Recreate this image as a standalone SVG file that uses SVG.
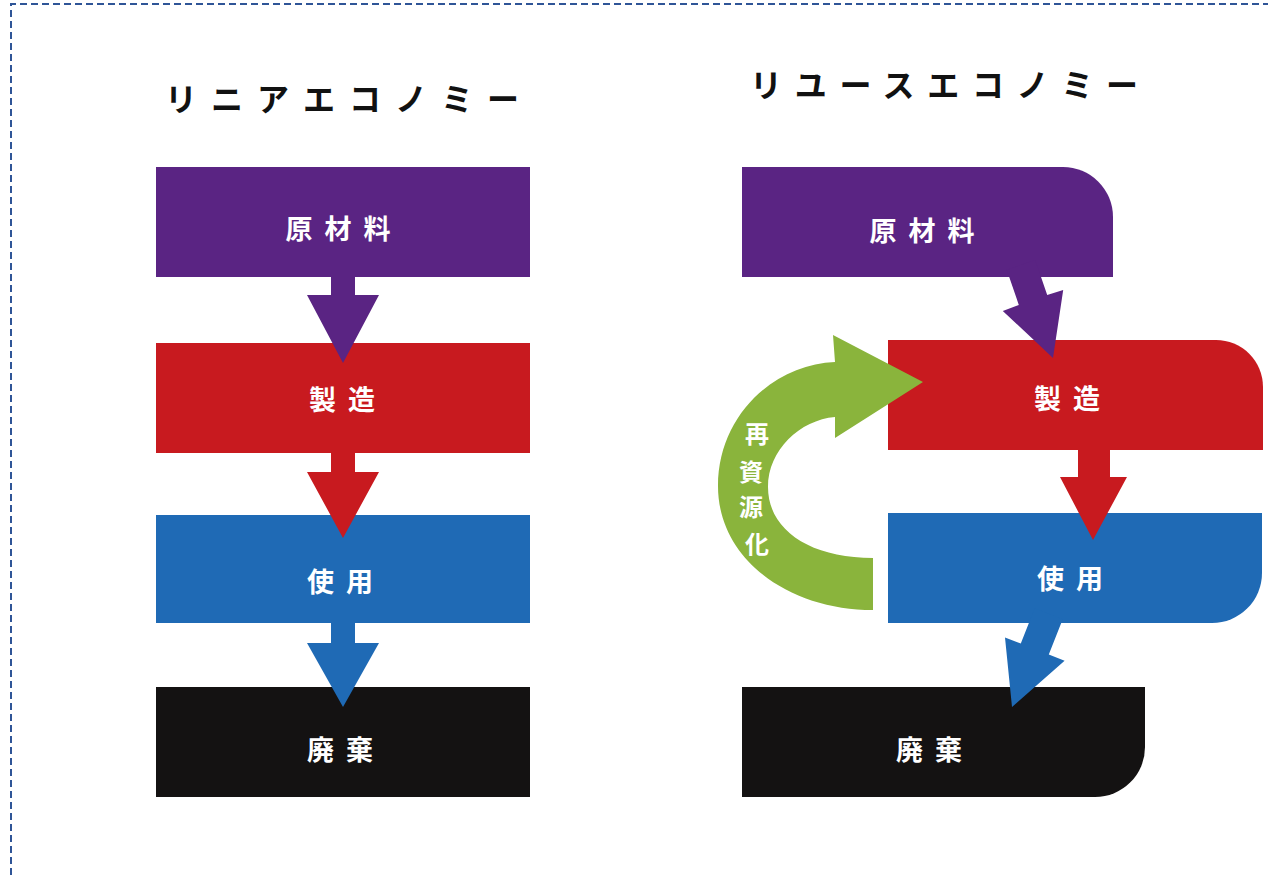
<svg xmlns="http://www.w3.org/2000/svg" width="1268" height="875" viewBox="0 0 1268 875">
<style>
.title{font-family:"Noto Sans CJK JP","Noto Sans",sans-serif;font-weight:700;font-size:32px;fill:#111;}
.lbl{font-family:"Noto Sans CJK JP","Noto Sans",sans-serif;font-weight:700;font-size:27px;fill:#fff;letter-spacing:12px;text-anchor:middle;dominant-baseline:central;}
.vl{font-family:"Noto Sans CJK JP","Noto Sans",sans-serif;font-weight:700;font-size:24px;fill:#fff;text-anchor:middle;dominant-baseline:central;}
.pu{fill:#5a2483;}
.rd{fill:#c81a1f;}
.bl{fill:#1f6ab5;}
.bk{fill:#141212;}
.gr{fill:#8ab43c;}
</style>
<rect x="0" y="0" width="1268" height="875" fill="#ffffff"/>
<path d="M11 875 L11 4 L1268 4" fill="none" stroke="#2f5597" stroke-width="2" stroke-dasharray="7 4"/>

<text class="title" x="165" y="111" letter-spacing="14">リニアエコノミー</text>
<text class="title" x="750" y="97" letter-spacing="12.7">リユースエコノミー</text>

<!-- Linear economy -->
<g id="l-raw"><rect class="pu" x="156" y="167" width="374" height="110"/><text class="lbl" x="344" y="227">原材料</text></g>
<g id="l-make"><rect class="rd" x="156" y="343" width="374" height="110"/><text class="lbl" x="348" y="398">製造</text></g>
<g id="l-use"><rect class="bl" x="156" y="515" width="374" height="108"/><text class="lbl" x="346" y="580">使用</text></g>
<g id="l-waste"><rect class="bk" x="156" y="687" width="374" height="110"/><text class="lbl" x="346" y="748">廃棄</text></g>

<!-- Reuse economy -->
<g id="r-raw"><path class="pu" d="M742 167 H1063 A50 50 0 0 1 1113 217 V277 H742 Z"/><text class="lbl" x="928" y="229">原材料</text></g>
<g id="r-make"><path class="rd" d="M888 340 H1216 A47 47 0 0 1 1263 387 V450 H888 Z"/><text class="lbl" x="1073" y="397">製造</text></g>
<g id="r-use"><path class="bl" d="M888 513 H1262 V573 A50 50 0 0 1 1212 623 H888 Z"/><text class="lbl" x="1076" y="577">使用</text></g>
<g id="r-waste"><path class="bk" d="M742 687 H1145 V747 A50 50 0 0 1 1095 797 H742 Z"/><text class="lbl" x="935" y="748">廃棄</text></g>

<g id="connectors">
  <polygon class="pu" points="331,270 355,270 355,295 379,295 343,363 307,295 331,295"/>
  <polygon class="rd" points="331,446 355,446 355,472 379,472 343,538 307,472 331,472"/>
  <polygon class="bl" points="331,616 355,616 355,643 379,643 343,707 307,643 331,643"/>

  <polygon class="pu" points="1006.8,269.9 1035.2,260.1 1047.2,295.1 1063.2,290 1053,358 1002.8,311 1018.8,304.9"/>
  <polygon class="rd" points="1078,446 1110,446 1110,477 1127,477 1093,540 1060,477 1078,477"/>
  <polygon class="bl" points="1034.7,608.2 1062.7,619.2 1048.8,654.6 1064.6,660.8 1012,707 1005,637.4 1020.8,643.6"/>

  <g id="recycle">
    <path class="gr" d="M873 610 C790 610 718 560 718 486 C718 415 775 364 835 362 L833 335 L923 382 L835 438 L835 417 C800 420 768 450 768 487 C768 530 810 558 873 558 Z"/>
    <text class="vl" x="757" y="432">再</text>
    <text class="vl" x="751" y="470">資</text>
    <text class="vl" x="751" y="505">源</text>
    <text class="vl" x="757" y="542">化</text>
  </g>
</g>
</svg>
